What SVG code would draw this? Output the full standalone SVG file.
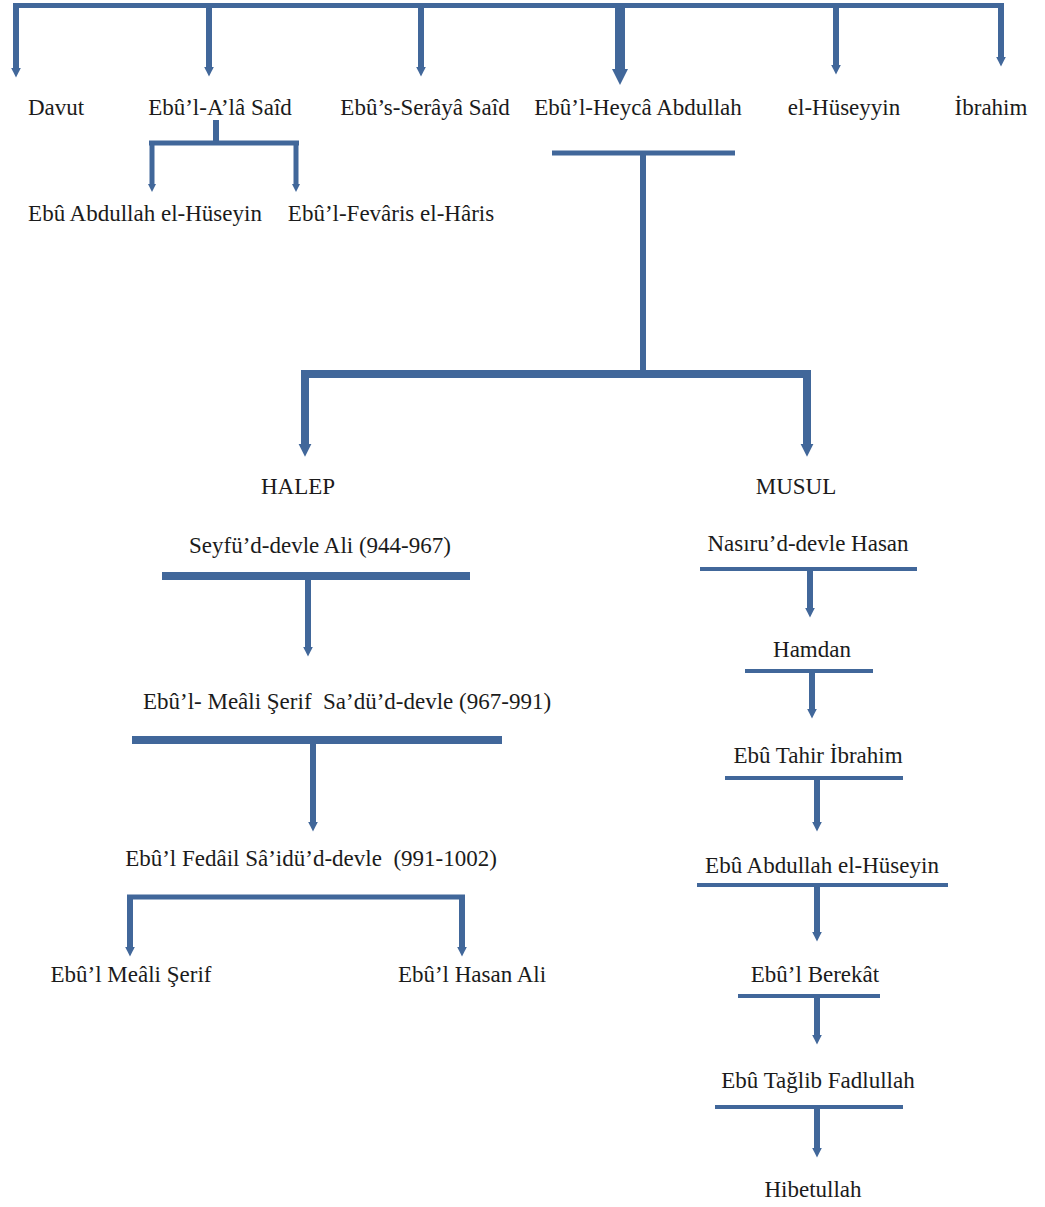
<svg xmlns="http://www.w3.org/2000/svg" width="1045" height="1207" viewBox="0 0 1045 1207">
<style>
text{font-size:23px;fill:#1b1b1b;text-anchor:middle;white-space:pre}
.c{stroke:#41679a;fill:none;stroke-linecap:butt}
.a{marker-end:url(#ah)}
</style>
<defs>
<marker id="ah" viewBox="0 0 10 10" refX="0" refY="5" markerUnits="strokeWidth" markerWidth="1.6" markerHeight="2.7" orient="auto">
<path d="M0,0 L10,5 L0,10 z" fill="#41679a"/>
</marker>
</defs>
<rect width="1045" height="1207" fill="#ffffff"/>
<g id="connectors">
<line class="c" x1="13" y1="5.5" x2="1004" y2="5.5" stroke-width="5"/>
<line class="c a" x1="16" y1="3" x2="16" y2="68" stroke-width="6"/>
<line class="c a" x1="209" y1="5" x2="209" y2="67" stroke-width="6"/>
<line class="c a" x1="421" y1="5" x2="421" y2="67" stroke-width="6"/>
<line class="c a" x1="620" y1="5" x2="620" y2="69" stroke-width="10"/>
<line class="c a" x1="836" y1="5" x2="836" y2="65" stroke-width="6"/>
<line class="c a" x1="1001" y1="3" x2="1001" y2="57" stroke-width="6"/>
<line class="c" x1="216" y1="120" x2="216" y2="143" stroke-width="6"/>
<line class="c" x1="149" y1="143" x2="299" y2="143" stroke-width="5"/>
<line class="c a" x1="152" y1="141" x2="152" y2="184" stroke-width="5"/>
<line class="c a" x1="296" y1="141" x2="296" y2="184" stroke-width="5"/>
<line class="c" x1="552" y1="153" x2="735" y2="153" stroke-width="5"/>
<line class="c" x1="643" y1="153" x2="643" y2="374" stroke-width="6"/>
<line class="c" x1="301" y1="374" x2="811" y2="374" stroke-width="8"/>
<line class="c a" x1="305" y1="371" x2="305" y2="444" stroke-width="8"/>
<line class="c a" x1="807" y1="371" x2="807" y2="444" stroke-width="8"/>
<line class="c" x1="162" y1="576" x2="470" y2="576" stroke-width="8"/>
<line class="c a" x1="308" y1="576" x2="308" y2="647" stroke-width="6"/>
<line class="c" x1="132" y1="740" x2="502" y2="740" stroke-width="8"/>
<line class="c a" x1="313" y1="740" x2="313" y2="822" stroke-width="6"/>
<line class="c" x1="127" y1="897" x2="465" y2="897" stroke-width="5"/>
<line class="c a" x1="130" y1="895" x2="130" y2="947" stroke-width="6"/>
<line class="c a" x1="462" y1="895" x2="462" y2="947" stroke-width="6"/>
<line class="c" x1="700" y1="569" x2="917" y2="569" stroke-width="4"/>
<line class="c a" x1="810" y1="569" x2="810" y2="608" stroke-width="6"/>
<line class="c" x1="745" y1="671" x2="873" y2="671" stroke-width="4"/>
<line class="c a" x1="812" y1="671" x2="812" y2="709" stroke-width="6"/>
<line class="c" x1="725" y1="778" x2="903" y2="778" stroke-width="4"/>
<line class="c a" x1="817" y1="778" x2="817" y2="822" stroke-width="6"/>
<line class="c" x1="697" y1="885" x2="948" y2="885" stroke-width="4"/>
<line class="c a" x1="817" y1="885" x2="817" y2="932" stroke-width="6"/>
<line class="c" x1="738" y1="996" x2="880" y2="996" stroke-width="4"/>
<line class="c a" x1="817" y1="996" x2="817" y2="1035" stroke-width="6"/>
<line class="c" x1="715" y1="1107" x2="903" y2="1107" stroke-width="4"/>
<line class="c a" x1="817" y1="1107" x2="817" y2="1148" stroke-width="6"/>
</g>
<g font-family="Liberation Serif, DejaVu Serif, serif">
<g id="davut"><text x="56" y="115">Davut</text></g>
<g id="ebul-ala-said"><text x="220" y="115">Ebû’l-A’lâ Saîd</text></g>
<g id="ebus-seraya-said"><text x="425" y="115">Ebû’s-Serâyâ Saîd</text></g>
<g id="ebul-heyca-abdullah"><text x="638" y="115">Ebû’l-Heycâ Abdullah</text></g>
<g id="el-huseyyin"><text x="844" y="115">el-Hüseyyin</text></g>
<g id="ibrahim"><text x="991" y="115">İbrahim</text></g>
<g id="ebu-abdullah-1"><text x="145" y="221">Ebû Abdullah el-Hüseyin</text></g>
<g id="ebul-fevaris"><text x="391" y="221">Ebû’l-Fevâris el-Hâris</text></g>
<g id="halep"><text x="298" y="494">HALEP</text></g>
<g id="musul"><text x="796" y="494">MUSUL</text></g>
<g id="seyfud-devle"><text x="320" y="553">Seyfü’d-devle Ali (944-967)</text></g>
<g id="saduddevle"><text x="347" y="709">Ebû’l- Meâli Şerif  Sa’dü’d-devle (967-991)</text></g>
<g id="saiduddevle"><text x="311" y="866">Ebû’l Fedâil Sâ’idü’d-devle  (991-1002)</text></g>
<g id="ebul-meali-serif"><text x="131" y="982">Ebû’l Meâli Şerif</text></g>
<g id="ebul-hasan-ali"><text x="472" y="982">Ebû’l Hasan Ali</text></g>
<g id="nasirud-devle"><text x="808" y="551">Nasıru’d-devle Hasan</text></g>
<g id="hamdan"><text x="812" y="657">Hamdan</text></g>
<g id="ebu-tahir"><text x="818" y="763">Ebû Tahir İbrahim</text></g>
<g id="ebu-abdullah-2"><text x="822" y="873">Ebû Abdullah el-Hüseyin</text></g>
<g id="ebul-berekat"><text x="815" y="982">Ebû’l Berekât</text></g>
<g id="ebu-taglib"><text x="818" y="1088">Ebû Tağlib Fadlullah</text></g>
<g id="hibetullah"><text x="813" y="1197">Hibetullah</text></g>
</g>
</svg>
